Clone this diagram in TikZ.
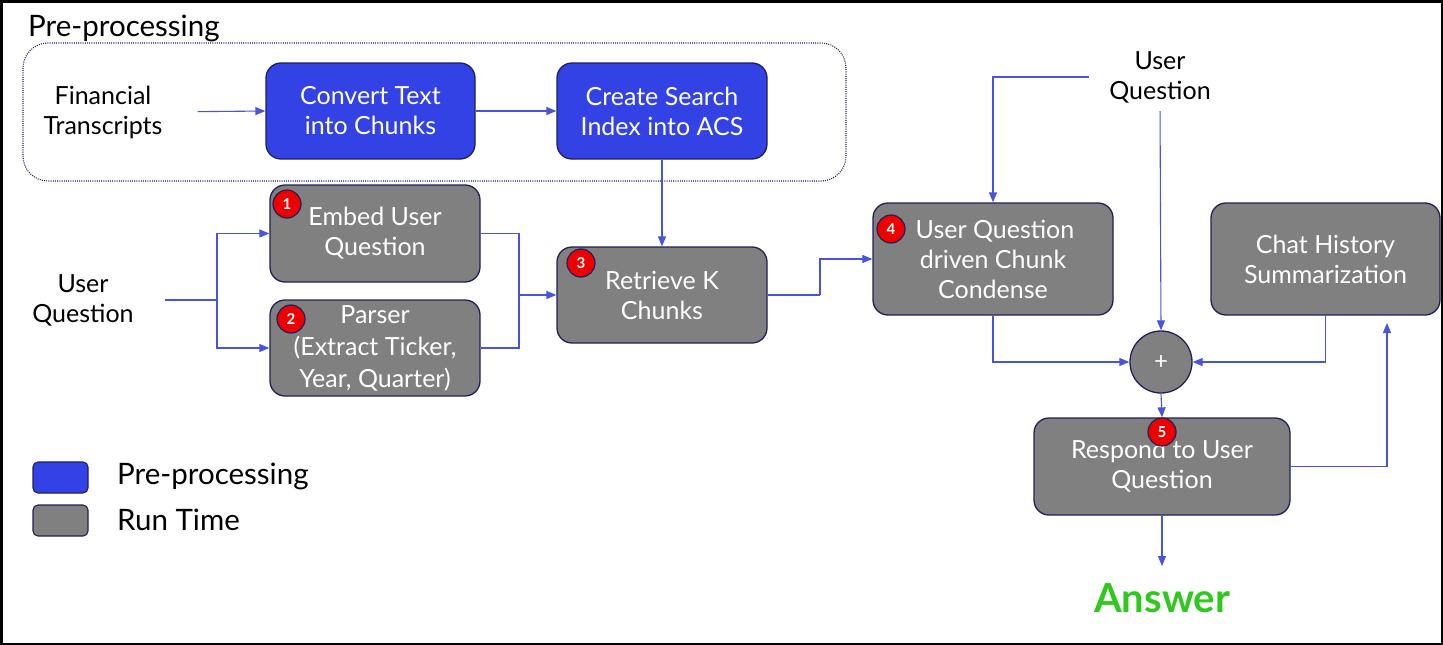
\documentclass[tikz,border=0pt]{standalone}
\usepackage{fontspec}
\setmainfont{Lato}
\usetikzlibrary{arrows.meta,positioning}
\definecolor{pblue}{RGB}{51,66,228}
\definecolor{rgray}{RGB}{128,128,128}
\definecolor{navy}{RGB}{32,32,92}
\definecolor{arr}{RGB}{72,84,222}
\definecolor{agreen}{RGB}{48,200,30}
\definecolor{bred}{RGB}{238,0,0}
\tikzset{
  box/.style={draw=navy, line width=1.3pt, rounded corners=15pt, text=white, align=center,
    font=\fontsize{25}{30}\selectfont, inner sep=0pt},
  prebox/.style={box, fill=pblue},
  runbox/.style={box, fill=rgray},
  badge/.style={circle, draw=navy, line width=1.2pt, fill=bred, text=white, inner sep=0pt,
    minimum size=28pt, font=\fontsize{15}{15}\selectfont\bfseries},
  plain/.style={align=center, font=\fontsize{25}{30}\selectfont, inner sep=0pt},
  conn/.style={draw=arr, line width=1.1pt},
  arrow/.style={conn, -{Triangle[length=10pt,width=8pt]}},
  legtext/.style={anchor=west, font=\fontsize{29.5}{30}\selectfont, inner sep=0pt},
}
\begin{document}
\begin{tikzpicture}[x=1pt,y=-1pt]
\useasboundingbox (0,0) rectangle (1443,645);
\draw[line width=2.5pt] (1.25,1.25) rectangle (1441.75,643.75);

% pre-processing region
\draw[navy, line width=1.1pt, dash pattern=on 1pt off 1.2pt, rounded corners=25pt] (23,43) rectangle (846,181);
\node[legtext] (ptitle) at (28,28) {Pre-processing};

\node[plain] (ft) at (103,112) {Financial\\Transcripts};
\node[prebox, minimum width=209pt, minimum height=96pt] (convert) at (370.5,111) {Convert Text\\into Chunks};
\node[prebox, minimum width=210pt, minimum height=96pt] (create) at (662,111) {Create Search\\Index into ACS};

% run time
\node[plain] (uq1) at (83,300) {User\\Question};
\node[runbox, minimum width=210pt, minimum height=97pt] (embed) at (375,233.5) {Embed User\\Question};
\node[runbox, minimum width=210pt, minimum height=96pt, font=\fontsize{25}{32}\selectfont] (parser) at (375,348) {Parser\\(Extract Ticker,\\Year, Quarter)};
\node[runbox, minimum width=210pt, minimum height=96pt] (retrieve) at (662,295) {Retrieve K\\Chunks};
\node[runbox, minimum width=240pt, minimum height=112pt] (cond) at (993,259) {\hspace*{4pt}User Question\\driven Chunk\\Condense};
\node[runbox, minimum width=229pt, minimum height=112pt] (chat) at (1325.5,259) {Chat History\\Summarization};
\node[circle, draw=navy, line width=1.3pt, fill=rgray, text=white, minimum size=62pt, inner sep=0pt,
  font=\fontsize{24}{24}\selectfont] (plus) at (1161,362) {+};
\node[runbox, minimum width=256pt, minimum height=97pt] (respond) at (1162,466.5) {Respond to User\\Question};
\node[plain] (uq2) at (1160,77) {User\\Question};
\node[font=\fontsize{40}{40}\selectfont\bfseries, text=agreen, inner sep=0pt] (answer) at (1162,598) {Answer};

% badges
\node[badge] (b1) at (287,204) {1};
\node[badge] (b2) at (291,319) {2};
\node[badge] (b3) at (581,263) {3};
\node[badge] (b4) at (891,229) {4};
\node[badge] (b5) at (1162,432) {5};

% legend
\node[draw=navy, line width=1.1pt, fill=pblue, rounded corners=5pt, minimum width=55pt, minimum height=31pt, inner sep=0pt] (lg1) at (60.5,477.5) {};
\node[draw=navy, line width=1.1pt, fill=rgray, rounded corners=5pt, minimum width=55pt, minimum height=31pt, inner sep=0pt] (lg2) at (60.5,520.5) {};
\node[legtext] (lt1) at (117,476) {Pre-processing};
\node[legtext] (lt2) at (117,520) {Run Time};

% junction coordinates
\coordinate (j1) at (217,300);
\coordinate (j2) at (519,295);
\coordinate (j3) at (820,295);
\coordinate (fb) at (1387,323);
\coordinate (ans) at (1162,566);

% connectors
\draw[arrow, shorten <=35pt] (ft.east) -- (convert.west);
\draw[arrow] (convert.east) -- (create.west);
\draw[arrow] (create.south) -- (retrieve.north);
\draw[conn, shorten <=31pt] (uq1.east) -- (j1);
\draw[arrow] (j1) |- (embed.west);
\draw[arrow] (j1) |- (parser.west);
\draw[conn] (embed.east) -| (j2);
\draw[conn] (parser.east) -| (j2);
\draw[arrow] (j2) -- (retrieve.west);
\draw[conn] (retrieve.east) -- (j3);
\draw[arrow] (j3) |- (cond.west);
\draw[arrow, shorten <=20pt] (uq2.west) -| (cond.north);
\draw[arrow, shorten <=8pt] (uq2.south) -- (plus.north);
\draw[arrow] (cond.south) |- (plus.west);
\draw[arrow] (chat.south) |- (plus.east);
\draw[arrow] (plus.south) -- (respond.north);
\draw[arrow] (respond.east) -| (fb);
\draw[arrow] (respond.south) -- (ans);
\end{tikzpicture}
\end{document}
